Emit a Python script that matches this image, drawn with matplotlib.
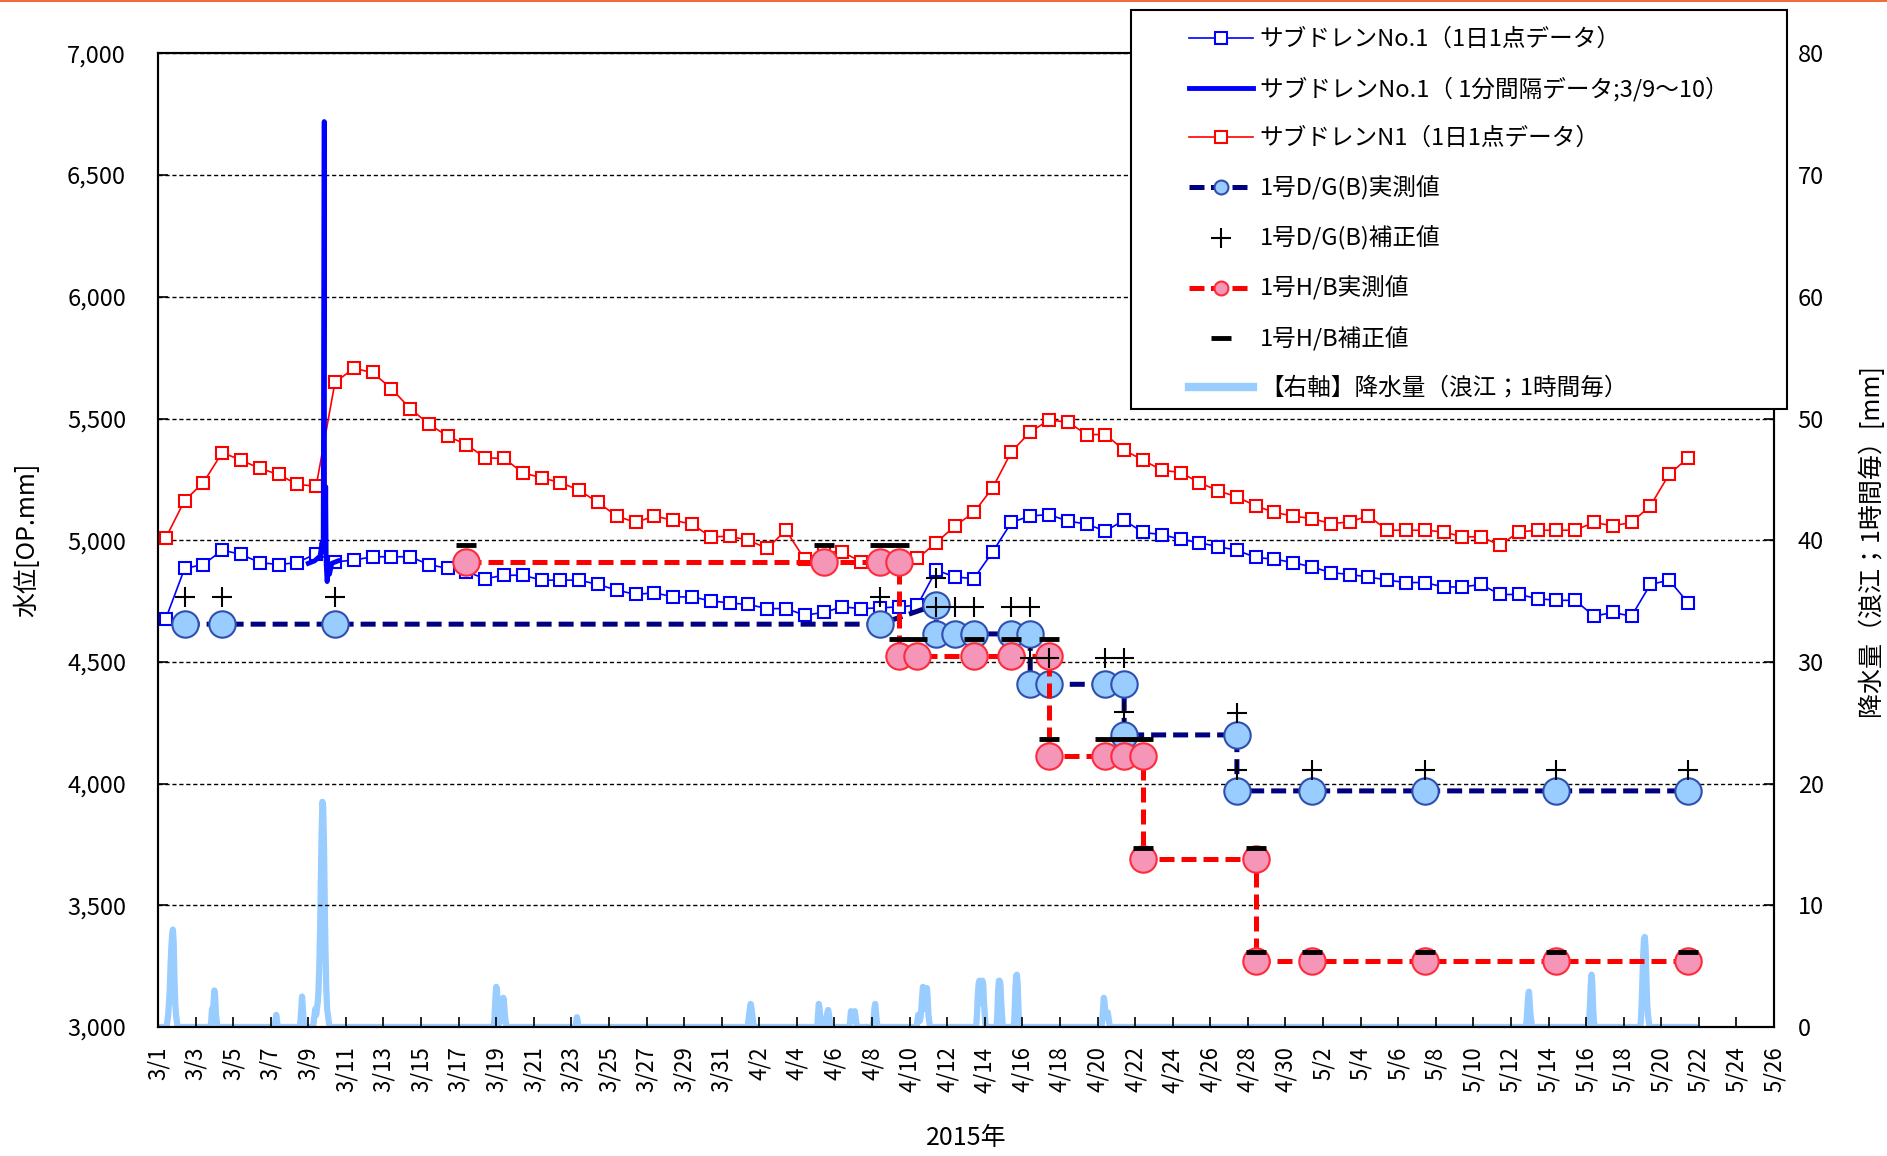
import matplotlib
matplotlib.use('Agg')
import matplotlib.pyplot as plt
from matplotlib.lines import Line2D
from matplotlib.patches import Rectangle
from matplotlib.ticker import FuncFormatter, MultipleLocator
import numpy as np
import pandas as pd

plt.rcParams['font.family'] = ['Noto Sans CJK JP', 'DejaVu Sans']

# ---- daily sub-drain data (1 point per day, 3/1 - 5/21) ----
daily_dates = pd.date_range('2015-03-01 10:00', periods=82, freq='D')
subdrain_no1 = [
    4678, 4884, 4900, 4959, 4942, 4908, 4900, 4908, 4945, 4911, 4918, 4932, 4932, 4932,
    4900, 4884, 4870, 4842, 4856, 4856, 4836, 4836,
    4836, 4818, 4795, 4777, 4784, 4767, 4767, 4751, 4742, 4736, 4719, 4719, 4692, 4703,
    4726, 4719, 4722, 4726, 4733, 4877, 4849, 4842,
    4952, 5073, 5100, 5105, 5079, 5066, 5038, 5082, 5032, 5023, 5004, 4990, 4973, 4959,
    4929, 4922, 4908, 4890, 4867, 4859, 4849, 4836,
    4826, 4826, 4808, 4808, 4818, 4777, 4777, 4760, 4753, 4753, 4688, 4703, 4688, 4818,
    4836, 4744]
subdrain_n1 = [
    5010, 5163, 5237, 5360, 5329, 5295, 5270, 5229, 5222, 5648, 5706, 5689, 5623, 5541,
    5477, 5427, 5393, 5338, 5336, 5277, 5256, 5237,
    5205, 5155, 5099, 5073, 5099, 5082, 5066, 5014, 5016, 5000, 4966, 5041, 4921, 4952,
    4952, 4911, 4904, 4904, 4925, 4990, 5059, 5114,
    5215, 5363, 5445, 5493, 5486, 5434, 5434, 5370, 5329, 5288, 5278, 5237, 5203, 5178,
    5141, 5114, 5099, 5089, 5068, 5075, 5100, 5041,
    5041, 5041, 5034, 5014, 5014, 4979, 5034, 5041, 5041, 5041, 5073, 5059, 5073, 5141,
    5270, 5338]

# ---- 1-minute data for No.1 on 3/9-3/10 (key points) ----
minute_times = ['2015-03-09 00:00', '2015-03-09 08:00', '2015-03-09 15:00', '2015-03-09 17:30',
                '2015-03-09 19:00', '2015-03-09 20:20', '2015-03-09 20:40', '2015-03-09 21:30',
                '2015-03-09 22:10', '2015-03-09 22:50', '2015-03-10 00:00', '2015-03-10 01:30',
                '2015-03-10 03:00', '2015-03-10 06:00', '2015-03-10 14:00']
minute_vals = [4905, 4915, 4935, 4990, 4960, 6720, 4950, 4960, 5220, 4900, 4830, 4880,
               4860, 4905, 4915]

# ---- 1号D/G(B) measured / corrected ----
dg_dates = ['03-02', '03-04', '03-10', '04-08', '04-11', '04-11', '04-12', '04-13', '04-15',
            '04-16', '04-16', '04-17', '04-20', '04-21', '04-21', '04-27', '04-27', '05-01',
            '05-07', '05-14', '05-21']
dg_meas = [4655, 4655, 4655, 4655, 4735, 4615, 4615, 4615, 4615, 4615, 4408, 4408, 4408,
           4408, 4200, 4200, 3970, 3970, 3970, 3970, 3970]
dg_corr = [4767, 4767, 4767, 4767, 4845, 4726, 4726, 4726, 4726, 4726, 4516, 4516, 4516,
           4516, 4294, 4292, 4055, 4055, 4055, 4055, 4055]

# ---- 1号H/B measured / corrected ----
hb_dates = ['03-17', '04-05', '04-08', '04-09', '04-09', '04-10', '04-13', '04-15', '04-17',
            '04-17', '04-20', '04-21', '04-22', '04-22', '04-28', '04-28', '05-01', '05-07',
            '05-14', '05-21']
hb_meas = [4911, 4911, 4911, 4911, 4523, 4523, 4523, 4523, 4523, 4114, 4114, 4114, 4114,
           3690, 3690, 3272, 3272, 3272, 3272, 3272]
hb_corr = [4980, 4980, 4980, 4980, 4593, 4593, 4593, 4593, 4593, 4182, 4182, 4182, 4182,
           3735, 3735, 3307, 3307, 3307, 3307, 3307]

# ---- hourly rainfall (Namie), events: start hour and hourly amounts [mm] ----
rain_start = '2015-03-01 00:00'
rain_end = '2015-05-21 21:00'
rain_events = [
    ('2015-03-01 12:00', [0.5, 1, 2, 3, 5, 6.5, 7.5, 8, 7, 4, 2, 1, 0.5]),
    ('2015-03-03 20:00', [0.5, 1.5, 1, 2, 3, 2.5, 1, 0.5]),
    ('2015-03-07 06:00', [0.5, 1, 0.5]),
    ('2015-03-08 14:00', [0.5, 1.5, 2.5, 1.5, 0.5]),
    ('2015-03-09 07:00', [0.5, 1, 1.5, 1, 1.5, 2, 3, 5, 8, 12, 16, 18.5, 18, 15, 10, 6, 3, 1.5, 1, 0.5]),
    ('2015-03-18 22:00', [1, 2.5, 3.3, 3, 1.5, 0.5, 0.3, 0.5, 0.5, 1, 1.5, 2.4, 2, 1, 0.5]),
    ('2015-03-23 06:00', [0.3, 0.8, 0.5]),
    ('2015-04-01 10:00', [0.5, 1, 1.5, 1.9, 1.5, 1, 0.5]),
    ('2015-04-05 03:00', [1, 1.9, 1.5, 0.8, 0.3, 0.2, 0.3, 0.2, 0.3, 0.3, 0.5, 0.8, 1.2, 1.4, 1, 0.5]),
    ('2015-04-06 20:00', [0.5, 1.3, 1.2, 0.8, 0.5, 1.0, 1.3, 0.8, 0.3]),
    ('2015-04-08 02:00', [0.5, 1.5, 1.9, 1.2, 0.5]),
    ('2015-04-10 10:00', [0.5, 1, 0.8, 0.5, 0.8, 1.5, 2.5, 3.3, 3, 2, 1.5, 2.5, 3.2, 2.5, 1, 0.5]),
    ('2015-04-13 14:00', [1, 2.5, 3.5, 3.8, 3, 2, 3, 3.8, 3.5, 2, 1]),
    ('2015-04-14 16:00', [1, 3, 3.8, 3.8, 3.5, 2, 1]),
    ('2015-04-15 14:00', [1, 3, 4.2, 4.3, 3.5, 1.5]),
    ('2015-04-20 06:00', [0.5, 1.5, 2.4, 2, 1, 0.8, 1, 1.2, 0.8, 0.3]),
    ('2015-05-12 20:00', [0.5, 1.5, 2.5, 2.9, 2, 1, 0.5]),
    ('2015-05-16 04:00', [0.5, 2, 3.5, 4.3, 3.5, 1.5, 0.5]),
    ('2015-05-18 22:00', [0.5, 2, 4, 6, 7.2, 7.4, 6.5, 4, 2, 1, 0.5]),
]

labels = ['サブドレンNo.1（1日1点データ）',
          'サブドレンNo.1（ 1分間隔データ;3/9～10）',
          'サブドレンN1（1日1点データ）',
          '1号D/G(B)実測値',
          '1号D/G(B)補正値',
          '1号H/B実測値',
          '1号H/B補正値',
          '【右軸】降水量（浪江；1時間毎）']

# ---- build series ----
rain_idx = pd.date_range(rain_start, rain_end, freq='h')
rain = pd.Series(0.0, index=rain_idx)
for start, vals in rain_events:
    t = pd.date_range(start, periods=len(vals), freq='h')
    rain.loc[t] = vals

def to_dt(md_list):
    return pd.to_datetime(['2015-' + d + ' 10:00' for d in md_list])

dg_x = to_dt(dg_dates)
hb_x = to_dt(hb_dates)
minute_x = pd.to_datetime(minute_times)

# ---- figure ----
W, H = 1887, 1156
fig = plt.figure(figsize=(W / 100, H / 100), dpi=100)
ax = fig.add_axes([158 / W, 1 - 1027 / H, (1774 - 158) / W, (1027 - 53.4) / H])
ax2 = ax.twinx()
ax.set_zorder(ax2.get_zorder() + 1)
ax.patch.set_visible(False)

rain_col = '#99CCFF'
ax2.plot(rain.index, rain.values, color=rain_col, lw=4.5, solid_capstyle='round', zorder=2)

ax.plot(daily_dates, subdrain_no1, color='#0000FF', lw=1.2, marker='s', ms=8.5,
        mfc='white', mec='#0000FF', mew=1.5, zorder=3)
ax.plot(daily_dates, subdrain_n1, color='#FF0000', lw=1.2, marker='s', ms=8.5,
        mfc='white', mec='#FF0000', mew=1.5, zorder=3)
ax.plot(minute_x, minute_vals, color='#0000FF', lw=3.5, zorder=4)

ax.plot(dg_x, dg_meas, color='#000080', lw=3.6, ls=(0, (3, 1.4)), marker='o', ms=19,
        mfc='#99CCFF', mec='#2E4FB0', mew=1.5, zorder=5)
ax.plot(hb_x, hb_meas, color='#FF0000', lw=3.6, ls=(0, (3, 1.4)), marker='o', ms=19,
        mfc='#F595B8', mec='#FF2A3A', mew=1.5, zorder=5)
ax.plot(dg_x, dg_corr, ls='none', marker='+', ms=15, mec='black', mew=1.5, zorder=6)
ax.plot(hb_x, hb_corr, ls='none', marker='_', ms=14, mec='black', mew=3.5, zorder=6)

# axes limits / ticks
ax.set_xlim(pd.Timestamp('2015-03-01'), pd.Timestamp('2015-05-26'))
ax.set_ylim(3000, 7000)
ax2.set_ylim(0, 80)
tick_dates = pd.date_range('2015-03-01', '2015-05-26', freq='2D')
ax.set_xticks(tick_dates)
ax.set_xticklabels([f'{d.month}/{d.day}' for d in tick_dates], rotation=90)
ax.yaxis.set_major_locator(MultipleLocator(500))
ax.yaxis.set_major_formatter(FuncFormatter(lambda v, p: f'{v:,.0f}'))
ax2.yaxis.set_major_locator(MultipleLocator(10))

ax.grid(axis='y', color='black', ls=(0, (3, 2)), lw=1.0)
ax.tick_params(axis='y', direction='in', length=7, width=1.2, labelsize=17, pad=23)
ax.tick_params(axis='x', direction='in', length=7, width=1.2, labelsize=16, pad=14)
ax2.tick_params(axis='y', direction='in', length=7, width=1.2, labelsize=17, pad=17)
for a in (ax, ax2):
    for s in a.spines.values():
        s.set_linewidth(1.5)
        s.set_color('black')

ax.set_ylabel('水位[OP.mm]', fontsize=18, labelpad=19)
ax2.set_ylabel('降水量（浪江；1時間毎）[mm]', fontsize=18, rotation=90, labelpad=24)
ax.set_xlabel('2015年', fontsize=18, labelpad=23)

# legend box and entries
box = Rectangle((1131 / W, 1 - 409 / H), 656 / W, 399 / H, transform=fig.transFigure,
                facecolor='white', edgecolor='black', lw=1.5, zorder=4)
fig.add_artist(box)
handles = [
    Line2D([], [], color='#0000FF', lw=1.2, marker='s', ms=8, mfc='white', mec='#0000FF', mew=1.5),
    Line2D([], [], color='#0000FF', lw=3.5),
    Line2D([], [], color='#FF0000', lw=1.2, marker='s', ms=8, mfc='white', mec='#FF0000', mew=1.5),
    Line2D([], [], color='#000080', lw=3.6, ls=(0, (3, 1.3)), marker='o', ms=10,
           mfc='#99CCFF', mec='#2E4FB0', mew=1.5),
    Line2D([], [], ls='none', marker='+', ms=15, mec='black', mew=1.5),
    Line2D([], [], color='#FF0000', lw=3.6, ls=(0, (3, 1.3)), marker='o', ms=10,
           mfc='#F595B8', mec='#FF2A3A', mew=1.5),
    Line2D([], [], ls='none', marker='_', ms=14, mec='black', mew=3.5),
    Line2D([], [], color=rain_col, lw=6),
]
leg = fig.legend(handles, labels, loc='upper left', bbox_to_anchor=(1189 / W, 1 - 28 / H),
                 frameon=False, fontsize=17, handlelength=2.7, handletextpad=0.3,
                 labelspacing=1.09, borderpad=0, borderaxespad=0)
leg.set_zorder(5)

# thin coloured line along the top edge of the image
fig.add_artist(Rectangle((0, 1 - 2 / H), 1, 2 / H, transform=fig.transFigure,
                         facecolor='#F26A3D', edgecolor='none', zorder=6))

fig.savefig('out.png', dpi=100)
